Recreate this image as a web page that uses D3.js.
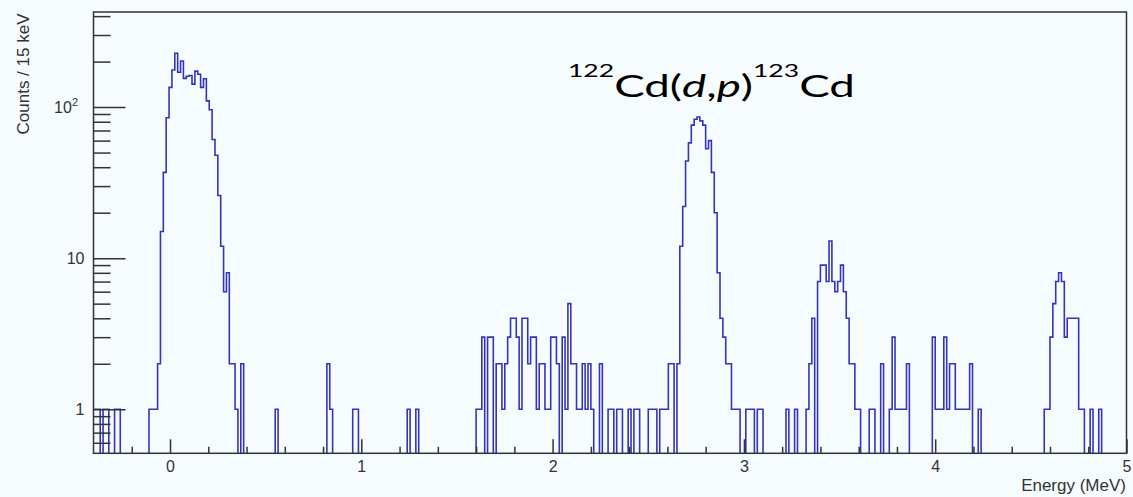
<!DOCTYPE html>
<html><head><meta charset="utf-8">
<script src="https://cdn.jsdelivr.net/npm/d3@7"></script>
<style>
html,body{margin:0;padding:0;background:#f6fbfd;}
svg{display:block;}
</style></head><body>
<svg id="chart" width="1133" height="497"></svg>
<script>
// ---------------- data ----------------
const binLow = -0.41;      // MeV, lower edge of first bin
const binWidth = 0.015;    // 15 keV per bin
const counts = [
  1,1,1,0,1,1,0,0,1,1, 0,0,0,0,0,0,0,0,0,0,
  1,1,1,2,15,37,85,135,176,227, 170,202,155,160,162,142,173,165,135,154,
  110,96,61,48,26,12,6,8,2,2, 1,0,2,0,0,0,0,0,0,0,
  0,0,0,0,1,0,0,0,0,0, 0,0,0,0,0,0,0,0,0,0,
  0,0,2,1,0,0,0,0,0,0, 0,1,1,0,0,0,0,0,0,0,
  0,0,0,0,0,0,0,0,0,0, 1,0,0,1,0,0,0,0,0,0,
  0,0,0,0,0,0,0,0,0,0, 0,0,0,0,1,1,3,0,3,3,
  0,2,2,1,2,3,4,4,3,1, 4,4,2,3,3,1,2,2,1,1,
  3,3,2,0,3,1,5,2,2,1, 1,2,1,2,1,0,0,2,0,0,
  1,1,0,1,1,0,0,1,0,1, 1,0,0,0,1,1,1,0,1,1,
  1,2,2,0,2,12,22,44,58,76, 83,86,81,76,53,60,37,20,8,4,
  3,2,2,1,1,1,0,0,1,1, 1,0,1,1,0,0,0,0,0,0,
  0,0,1,0,0,1,0,0,0,1, 2,4,0,7,9,9,7,13,7,6,
  7,9,6,4,2,2,1,1,0,0, 0,1,1,0,0,2,0,0,1,3,
  1,1,1,1,2,0,0,0,0,0, 0,0,0,3,1,1,1,3,1,2,
  2,1,1,1,1,1,2,0,0,1, 0,0,0,0,0,0,0,0,0,0,
  0,0,0,0,0,0,0,0,0,0, 0,0,1,1,3,5,7,8,7,3,
  4,4,4,4,1,1,0,0,1,0, 0,1,0,0,0,0,0,0,0,0
];
const xDomain = [-0.4, 5.0];
const yDomain = [0.511, 426];
const xMajorTicks = [0, 1, 2, 3, 4, 5];
const xMinorTicks = [-0.2, 0.2, 0.4, 0.6, 0.8, 1.2, 1.4, 1.6, 1.8, 2.2, 2.4, 2.6, 2.8,
                     3.2, 3.4, 3.6, 3.8, 4.2, 4.4, 4.6, 4.8];
const yMajorTicks = [1, 10, 100];
const yMajorLabels = ["1", "10", "10|2"];
const yMinorTicks = [0.6, 0.7, 0.8, 0.9, 2, 3, 4, 5, 6, 7, 8, 9,
                     20, 30, 40, 50, 60, 70, 80, 90, 200, 300, 400];
const xTitle = "Energy (MeV)";
const yTitle = "Counts / 15 keV";
const annotation = [
  {t: "122", sup: true, it: false}, {t: "Cd(", sup: false, it: false},
  {t: "d", sup: false, it: true}, {t: ",", sup: false, it: false},
  {t: "p", sup: false, it: true}, {t: ")", sup: false, it: false},
  {t: "123", sup: true, it: false}, {t: "Cd", sup: false, it: false}
];

// ---------------- layout ----------------
const frame = {left: 93.5, right: 1126.5, top: 12, bottom: 453.3};
const svg = d3.select("#chart");
const x = d3.scaleLinear().domain(xDomain).range([frame.left, frame.right]);
const y = d3.scaleLog().domain(yDomain).range([frame.bottom, frame.top]);
const axisColor = "#333";
const rootFont = "Liberation Sans, Arial, sans-serif";

svg.append("defs").append("clipPath").attr("id", "frameClip")
  .append("rect").attr("x", frame.left).attr("y", frame.top)
  .attr("width", frame.right - frame.left).attr("height", frame.bottom - frame.top);

// histogram step path
const pts = [];
pts.push([binLow, 0]);
counts.forEach((c, i) => {
  const e0 = binLow + i * binWidth, e1 = e0 + binWidth;
  pts.push([e0, c]); pts.push([e1, c]);
});
pts.push([binLow + counts.length * binWidth, 0]);
const line = d3.line()
  .x(d => x(d[0]))
  .y(d => d[1] > 0 ? y(d[1]) : frame.bottom + 1);
svg.append("path").attr("clip-path", "url(#frameClip)")
  .attr("d", line(pts)).attr("fill", "none")
  .attr("stroke", "#3434b9").attr("stroke-width", 1.6)
  .attr("stroke-linejoin", "miter");

// axes (ticks inward)
function tickAxis(axis, transform) {
  const g = svg.append("g").attr("transform", transform).call(axis);
  g.select(".domain").remove();
  g.selectAll(".tick line").attr("stroke", axisColor).attr("stroke-width", 1.5);
  return g;
}
tickAxis(d3.axisBottom(x).tickValues(xMinorTicks).tickSize(-6.5).tickFormat(""),
  `translate(0,${frame.bottom})`);
const gx = tickAxis(d3.axisBottom(x).tickValues(xMajorTicks).tickSize(-14).tickPadding(7.5)
  .tickFormat(d3.format("d")), `translate(0,${frame.bottom})`);
gx.selectAll("text").attr("font-family", rootFont)
  .attr("font-size", 16).attr("fill", "#333");
tickAxis(d3.axisLeft(y).tickValues(yMinorTicks).tickSize(-17).tickFormat(""),
  `translate(${frame.left},0)`);
tickAxis(d3.axisLeft(y).tickValues(yMajorTicks).tickSize(-32).tickFormat(""),
  `translate(${frame.left},0)`);

// y labels
yMajorTicks.forEach((v, i) => {
  const parts = yMajorLabels[i].split("|");
  const t = svg.append("text")
    .attr("x", parts.length > 1 ? 78 : 84.5).attr("y", y(v) + 6)
    .attr("text-anchor", "end").attr("font-family", rootFont)
    .attr("font-size", 16).attr("fill", "#333");
  t.append("tspan").text(parts[0]);
  if (parts.length > 1) t.append("tspan").attr("font-size", 11).attr("dy", -7).text(parts[1]);
});

// frame
svg.append("rect").attr("x", frame.left).attr("y", frame.top)
  .attr("width", frame.right - frame.left).attr("height", frame.bottom - frame.top)
  .attr("fill", "none").attr("stroke", axisColor).attr("stroke-width", 1.5);

// titles
svg.append("text").attr("x", 1126).attr("y", 491).attr("text-anchor", "end")
  .attr("font-family", rootFont).attr("font-size", 17)
  .attr("fill", "#333").text(xTitle);
svg.append("text").attr("transform", "translate(29,13.5) rotate(-90)")
  .attr("text-anchor", "end")
  .attr("font-family", rootFont).attr("font-size", 17)
  .attr("fill", "#333").text(yTitle);

// annotation
const annX = 568, annWidth = 287;
const ann = svg.append("text").attr("x", annX).attr("y", 97)
  .attr("font-family", "Lato, 'Open Sans', sans-serif").attr("font-size", 31).attr("fill", "#000");
let prevSup = false;
annotation.forEach(p => {
  const ts = ann.append("tspan").text(p.t);
  if (p.sup) { ts.attr("font-size", 18).attr("dy", prevSup ? 0 : -20); }
  else if (prevSup) { ts.attr("dy", 20); }
  if (p.it) ts.attr("font-style", "italic");
  prevSup = p.sup;
});
const bb = ann.node().getBBox();
const sx = annWidth / bb.width;
ann.attr("transform", `translate(${annX},0) scale(${sx},1) translate(${-bb.x},0)`);
</script>
</body></html>
